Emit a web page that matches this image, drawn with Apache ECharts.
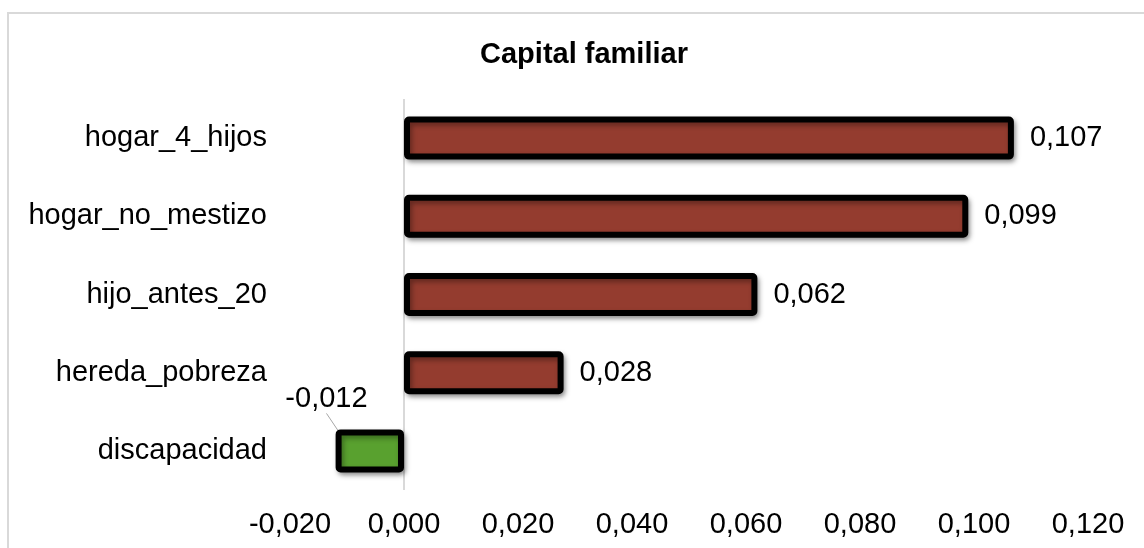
<!DOCTYPE html>
<html>
<head>
<meta charset="utf-8">
<script src="https://cdn.jsdelivr.net/npm/echarts@6/dist/echarts.min.js"></script>
<style>
  html, body { margin: 0; padding: 0; background: #fff; }
  #frame { position: absolute; left: 7px; top: 12px; width: 1200px; height: 600px;
           border: 2px solid #d9d9d9; box-sizing: border-box; }
  #chart { position: absolute; left: 0; top: 0; width: 1144px; height: 548px; }
</style>
</head>
<body>
<div id="frame"></div>
<div id="chart"></div>
<script>
// Categories listed bottom to top (category axis grows upward)
const categories = ['discapacidad', 'hereda_pobreza', 'hijo_antes_20', 'hogar_no_mestizo', 'hogar_4_hijos'];
const values = [-0.012, 0.028, 0.062, 0.099, 0.107];
const xTicks = { min: -0.02, max: 0.12, interval: 0.02 };

const posColor = '#943c2f';
const negColor = '#59a12f';
const font = 'Liberation Sans, Arial';

const fmt = v => v.toFixed(3).replace('.', ',');

const chart = echarts.init(document.getElementById('chart'), null, { renderer: 'canvas' });

// Negative values get their label lifted above the bar with a leader line
const barData = values.map(v => ({
  value: v,
  itemStyle: { color: v < 0 ? negColor : posColor },
  label: v < 0 ? { position: 'left' } : { position: 'right' },
  labelLine: { show: v < 0, lineStyle: { color: '#a6a6a6', width: 1 } }
}));

chart.setOption({
  animation: false,
  title: {
    text: 'Capital familiar',
    left: 579,
    textAlign: 'center',
    top: 35,
    textStyle: { fontFamily: font, fontWeight: 'bold', fontSize: 29, color: '#000' }
  },
  grid: { left: 290, right: 56, top: 99, bottom: 58 },
  xAxis: {
    type: 'value',
    min: xTicks.min, max: xTicks.max, interval: xTicks.interval,
    axisLine: { show: false },
    axisTick: { show: false },
    splitLine: { show: false },
    axisLabel: {
      formatter: v => fmt(v),
      fontFamily: font, fontSize: 29, color: '#000', margin: 20
    }
  },
  yAxis: {
    type: 'category',
    data: categories,
    axisLine: { show: false, onZero: false },
    axisTick: { show: false },
    axisLabel: { fontFamily: font, fontSize: 29, color: '#000', margin: 23 }
  },
  series: [{
    type: 'bar',
    data: barData,
    barWidth: 43,
    itemStyle: {
      borderColor: '#000', borderWidth: 6, borderRadius: 2,
      shadowColor: 'rgba(0,0,0,0.35)', shadowBlur: 5, shadowOffsetX: 2, shadowOffsetY: 3
    },
    label: {
      show: true,
      formatter: p => fmt(p.value),
      fontFamily: font, fontSize: 29, color: '#000', distance: 16
    },
    labelLayout: p => values[p.dataIndex] < 0 ? { dx: 48, dy: -52 } : {},
    markLine: {
      silent: true,
      symbol: 'none',
      label: { show: false },
      lineStyle: { color: '#d9d9d9', width: 2, type: 'solid' },
      data: [{ xAxis: 0 }],
      z: 0
    }
  }]
});
</script>
</body>
</html>
